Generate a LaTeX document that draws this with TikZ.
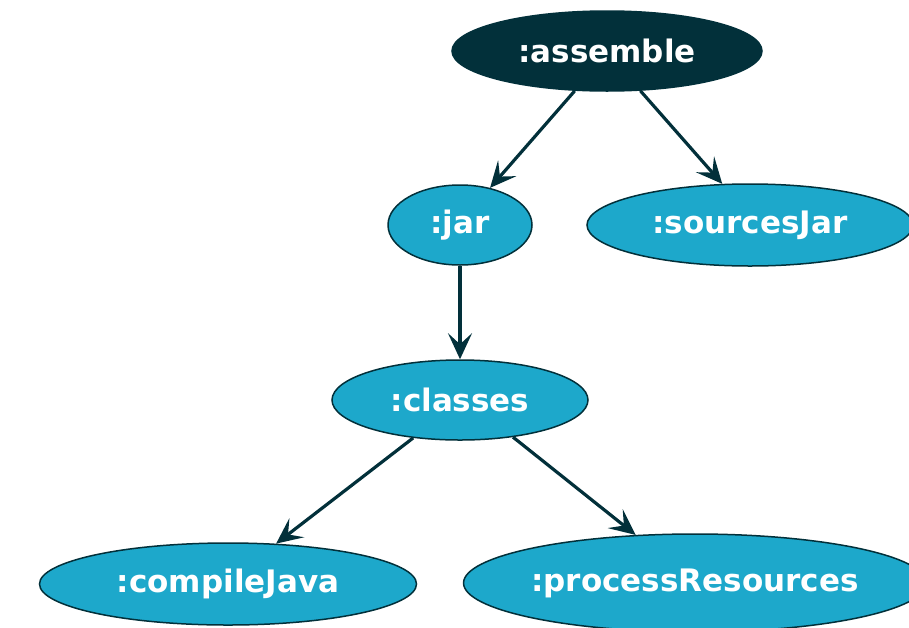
\documentclass[tikz,border=0pt]{standalone}
\usepackage{fontspec}
\setmainfont{DejaVu Sans}
\usetikzlibrary{shapes.geometric,arrows.meta}
\definecolor{gdark}{HTML}{02303A}
\definecolor{gcyan}{HTML}{1DA8CB}
\tikzset{
  task/.style={ellipse, draw=gdark, line width=1.5pt, fill=gcyan, text=white,
    inner sep=0pt, font=\fontsize{31}{37}\selectfont\bfseries},
  rootask/.style={task, fill=gdark},
  dep/.style={draw=gdark, line width=3.2pt,
    -{Stealth[length=26pt,width=24pt,inset=11pt]}}
}
\begin{document}
\begin{tikzpicture}[x=1pt,y=-1pt]
\useasboundingbox (0,0) rectangle (909,627);
\node[rootask, minimum width=310pt, minimum height=80pt] (assemble) at (607,51) {:assemble};
\node[task, minimum width=144pt, minimum height=80pt] (jar) at (460,225) {:jar};
\node[task, minimum width=326pt, minimum height=82pt] (sources) at (750,225) {:sourcesJar};
\node[task, minimum width=256pt, minimum height=80pt] (classes) at (460,400) {:classes};
\node[task, minimum width=377pt, minimum height=82pt] (compile) at (228,584) {:compileJava};
\node[task, minimum width=456pt, minimum height=98pt] (process) at (695,583) {:processResources};
\draw[dep] (assemble.-129) -- (jar.51);
\draw[dep] (assemble.-50) -- (sources.124);
\draw[dep] (jar) -- (classes);
\draw[dep] (classes.-141) -- (compile.40);
\draw[dep] (classes.-35) -- (process.141);
\end{tikzpicture}
\end{document}
